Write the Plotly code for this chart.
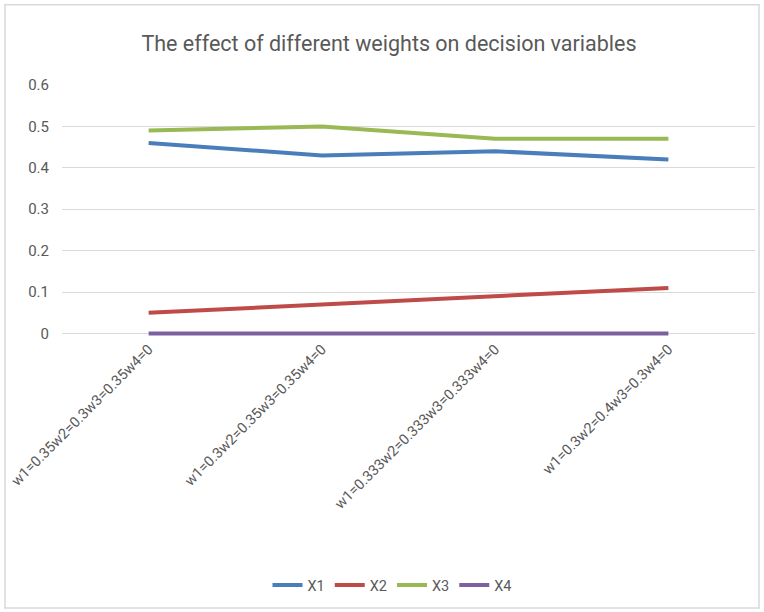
import plotly.graph_objects as go

# Weight scenarios (category axis)
scenarios = [
    "w1=0.35w2=0.3w3=0.35w4=0",
    "w1=0.3w2=0.35w3=0.35w4=0",
    "w1=0.333w2=0.333w3=0.333w4=0",
    "w1=0.3w2=0.4w3=0.3w4=0",
]

# Decision variable values per scenario
x1 = [0.46, 0.43, 0.44, 0.42]
x2 = [0.05, 0.07, 0.09, 0.11]
x3 = [0.49, 0.50, 0.47, 0.47]
x4 = [0.0, 0.0, 0.0, 0.0]

series = [("X1", x1, "#4A7EBB"), ("X2", x2, "#BE4B48"),
          ("X3", x3, "#98B954"), ("X4", x4, "#7D60A0")]

FONT = "Roboto, sans-serif"

# Pixel geometry of the plotting area
TOP, ZERO, LEFT, RIGHT = 85, 333, 62, 755
PX_PER_UNIT = (ZERO - TOP) / 0.6
Y_MIN = -0.0085
BOTTOM = ZERO + (-Y_MIN) * PX_PER_UNIT
PLOT_H = BOTTOM - TOP
PLOT_W = RIGHT - LEFT

fig = go.Figure()
for name, vals, color in series:
    fig.add_trace(go.Scatter(x=scenarios, y=vals, name=name, mode="lines",
                             line=dict(color=color, width=4)))

fig.update_layout(
    width=764, height=612,
    margin=dict(l=LEFT, r=764 - RIGHT, t=TOP, b=612 - BOTTOM),
    paper_bgcolor="#FFFFFF", plot_bgcolor="#FFFFFF",
    font=dict(family=FONT, color="#595959", size=13),
    title=dict(text="The effect of different weights on decision variables",
               x=389 / 764, xanchor="center", y=1 - 43 / 612, yanchor="middle",
               font=dict(family=FONT, size=21.5, color="#595959")),
    showlegend=True,
    legend=dict(orientation="h", x=(392 - LEFT) / PLOT_W, xanchor="center",
                y=(BOTTOM - 584) / PLOT_H, yanchor="middle",
                font=dict(size=14.5, color="#595959"),
                itemwidth=30, tracegroupgap=0),
    xaxis=dict(type="category", showgrid=False, showline=False, ticks="",
               tickangle=-45, tickfont=dict(size=14.5, color="#595959"),
               range=[-0.5, 3.5]),
    yaxis=dict(range=[Y_MIN, 0.6], tickvals=[0, 0.1, 0.2, 0.3, 0.4, 0.5, 0.6],
               ticktext=["0", "0.1", "0.2", "0.3", "0.4", "0.5", "0.6"],
               showgrid=True, gridcolor="#D9D9D9",
               gridwidth=1, zeroline=True, zerolinecolor="#D9D9D9",
               zerolinewidth=1, showline=False, ticks="",
               tickfont=dict(size=15, color="#595959"),
               ticklabelstandoff=12),
    shapes=[dict(type="rect", xref="paper", yref="paper",
                 x0=(5 - LEFT) / PLOT_W, x1=(759 - LEFT) / PLOT_W,
                 y0=(BOTTOM - 607) / PLOT_H, y1=(BOTTOM - 5) / PLOT_H,
                 line=dict(color="#D9D9D9", width=1.5), layer="below")],
)

fig.write_html("out.html")
